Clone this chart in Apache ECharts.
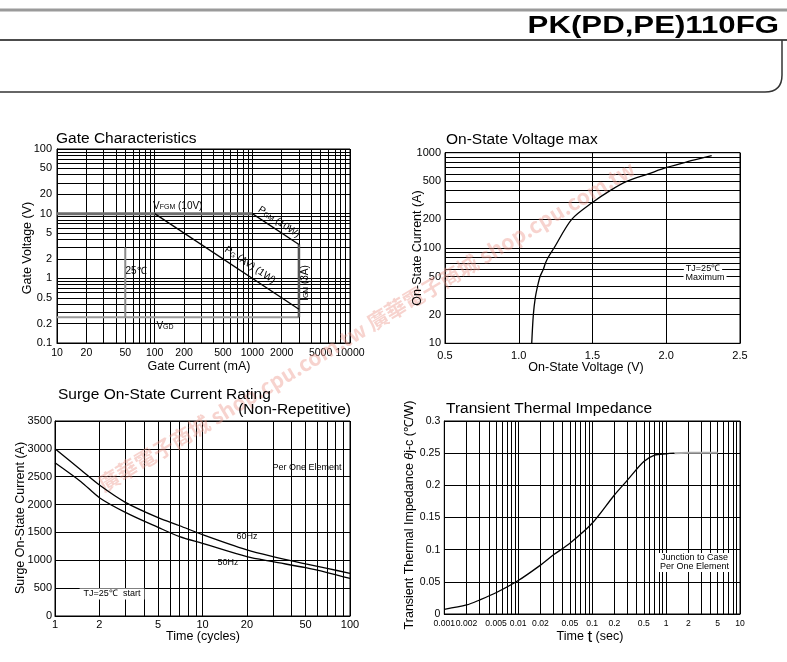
<!DOCTYPE html>
<html><head><meta charset="utf-8">
<script src="https://cdn.jsdelivr.net/npm/echarts@6/dist/echarts.min.js"></script>
<style>html,body{margin:0;padding:0;background:#fff}#c{width:787px;height:662px}</style>
</head><body><div id="c"></div>
<script>
// ---------- Gate Characteristics ----------
const gateXLabels = [10, 20, 50, 100, 200, 500, 1000, 2000, 5000, 10000];
const gateYLabels = [0.1, 0.2, 0.5, 1, 2, 5, 10, 20, 50, 100];
const gateVFGM = [[10, 10], [1000, 10]];
const gatePGAV = [[100, 10], [3000, 0.3333]];
const gatePGM = [[1000, 10], [3000, 3.333]];
const gateIGM = [[3000, 0.25], [3000, 3.333]];
const gateVGD = [[10, 0.25], [3000, 0.25]];
const gateIGT = [[50, 0.25], [50, 3]];
// ---------- On-State Voltage max ----------
const onStateV = [1.088, 1.099, 1.112, 1.128, 1.144, 1.167, 1.182, 1.200, 1.239, 1.359, 1.499, 1.619, 1.732, 1.879, 2.003, 2.139, 2.308];
const onStateI = [10, 20, 30, 40, 50, 60, 70, 80, 100, 200, 300, 400, 500, 600, 700, 800, 930];
const onStateXLabels = [0.5, 1.0, 1.5, 2.0, 2.5];
const onStateYLabels = [10, 20, 50, 100, 200, 500, 1000];
// ---------- Surge On-State Current Rating ----------
const surgeCycles = [1, 1.5, 2, 3, 5, 7, 10, 20, 30, 50, 70, 100];
const surge60Hz = [3000, 2620, 2350, 2040, 1765, 1620, 1460, 1185, 1065, 935, 855, 766];
const surge50Hz = [2752, 2411, 2124, 1861, 1591, 1424, 1304, 1065, 975, 867, 780, 676];
const surgeXLabels = [1, 2, 5, 10, 20, 50, 100];
// ---------- Transient Thermal Impedance ----------
const thermTime = [0.001, 0.002, 0.003, 0.005, 0.01, 0.02, 0.03, 0.05, 0.1, 0.2, 0.3, 0.5, 0.7, 1, 1.3];
const thermZth = [0.0073, 0.014, 0.0218, 0.033, 0.052, 0.076, 0.092, 0.110, 0.141, 0.185, 0.208, 0.237, 0.247, 0.249, 0.25];
const thermTailTime = [1.3, 2, 5];
const thermTailZth = [0.25, 0.2505, 0.2505];
const thermXLabels = [0.001, 0.002, 0.005, 0.01, 0.02, 0.05, 0.1, 0.2, 0.5, 1, 2, 5, 10];

const FONT = '"Liberation Sans", Arial, Helvetica, sans-serif';
const NARROW = '"Liberation Sans Narrow", "Arial Narrow", "Liberation Sans", sans-serif';

function logGrid(min, max) {
  const out = [];
  for (let e = Math.round(Math.log10(min)); Math.pow(10, e) < max * 1.0001; e++) {
    for (let m = 1; m < 10; m++) {
      const v = +(m * Math.pow(10, e)).toPrecision(6);
      if (v >= min * 0.9999 && v <= max * 1.0001) out.push(v);
    }
  }
  return out;
}
// keep end values inside the (floating point) log extent
const inside = (vals, min, max) => vals.map(v => v <= min ? min * 1.000001 : (v >= max ? max * 0.999999 : v));
const fmt = v => String(+(+v).toPrecision(4));
const lineBlack = { color: '#000', width: 1 };

function logAxis(gi, min, max, labels, labelOpt) {
  return {
    type: 'log', logBase: 10, gridIndex: gi, min: min, max: max,
    axisLine: { show: true, onZero: false, lineStyle: lineBlack },
    axisTick: { show: false, customValues: inside(logGrid(min, max), min, max) },
    splitLine: { show: true, lineStyle: lineBlack },
    axisLabel: Object.assign({ customValues: inside(labels, min, max), showMinLabel: true, showMaxLabel: true, hideOverlap: false,
      color: '#000', fontFamily: FONT, fontSize: 11, margin: 5, formatter: fmt }, labelOpt || {})
  };
}
function valAxis(gi, min, max, interval, labelOpt) {
  return {
    type: 'value', gridIndex: gi, min: min, max: max, interval: interval,
    axisLine: { show: true, onZero: false, lineStyle: lineBlack },
    axisTick: { show: false },
    splitLine: { show: true, lineStyle: lineBlack },
    axisLabel: Object.assign({ showMinLabel: true, showMaxLabel: true, color: '#000', fontFamily: FONT, fontSize: 11, margin: 5, formatter: v => String(v) }, labelOpt || {})
  };
}
function zip(a, b) { return a.map((v, i) => [v, b[i]]); }
function ln(xi, data, color, width, smooth, z) {
  return { type: 'line', xAxisIndex: xi, yAxisIndex: xi, data: data, showSymbol: false, symbol: 'none',
    smooth: smooth || false, lineStyle: { color: color, width: width }, z: z || 3, silent: true, animation: false };
}
function T(x, y, text, o) {
  o = o || {};
  return { type: 'text', x: x, y: y, rotation: o.rot || 0, z: o.z || 100, scaleX: o.sx || 1,
    style: Object.assign({ text: text, x: 0, y: 0, fill: o.fill || '#000',
      font: o.font || ('12px ' + FONT), align: o.align || 'center', verticalAlign: 'middle' },
      o.style || {}) };
}

const sub = { s: { fontSize: 7, fontFamily: FONT, verticalAlign: 'bottom', padding: [3, 0, 0, 0] } };
const labF = '10px ' + FONT;
const smallF = '9px ' + NARROW;

const option = {
  animation: false,
  backgroundColor: '#fff',
  grid: [
    { left: 57, top: 149, width: 293, height: 194, show: true, borderColor: '#000', borderWidth: 1 },
    { left: 445, top: 152.7, width: 295, height: 190.6, show: true, borderColor: '#000', borderWidth: 1 },
    { left: 55, top: 421, width: 295, height: 195, show: true, borderColor: '#000', borderWidth: 1 },
    { left: 444.3, top: 421, width: 295.7, height: 193, show: true, borderColor: '#000', borderWidth: 1 }
  ],
  xAxis: [
    logAxis(0, 10, 10000, gateXLabels, { margin: 5, fontSize: 10.5 }),
    valAxis(1, 0.5, 2.5, 0.5, { margin: 7, formatter: v => (+v).toFixed(1) }),
    logAxis(2, 1, 100, surgeXLabels, { margin: 3 }),
    logAxis(3, 0.001, 10, thermXLabels, { margin: 5, fontFamily: NARROW, fontSize: 8.6 })
  ],
  yAxis: [
    logAxis(0, 0.1, 100, gateYLabels, { margin: 5 }),
    logAxis(1, 10, 1000, onStateYLabels, { margin: 4 }),
    valAxis(2, 0, 3500, 500, { margin: 3 }),
    valAxis(3, 0, 0.3, 0.05, { margin: 4, fontFamily: NARROW, fontSize: 10.5, formatter: v => String(+(+v).toFixed(2)) })
  ],
  series: [
    ln(0, gateVFGM, '#6e6e6e', 3),
    ln(0, gateVGD, '#9a9a9a', 2),
    ln(0, gateIGT, '#8a8a8a', 2),
    ln(0, gateIGM, '#555', 2.5),
    ln(0, gatePGAV, '#000', 1.3),
    ln(0, gatePGM, '#000', 1.3),
    ln(1, zip(onStateV, onStateI), '#000', 1.3, 0.3),
    ln(2, zip(surgeCycles, surge60Hz), '#000', 1.3, 0.3),
    ln(2, zip(surgeCycles, surge50Hz), '#000', 1.3, 0.3),
    ln(3, zip(thermTime, thermZth), '#000', 1.3, 0.3),
    ln(3, zip(thermTailTime, thermTailZth), '#aaa', 2)
  ],
  graphic: [
    T(100, 486, '廣華電子商城 shop.cpu.com.tw 廣華電子商城 shop.cpu.com.tw',
      { rot: 0.54, align: 'left', z: 1, fill: 'rgba(235,150,138,0.42)',
        font: 'bold 21px "Noto Sans CJK TC", "Liberation Sans", sans-serif' }),
    { type: 'line', z: 100, shape: { x1: 0, y1: 10, x2: 787, y2: 10 }, style: { stroke: '#9a9a9a', lineWidth: 3 } },
    { type: 'line', z: 100, shape: { x1: 0, y1: 40, x2: 787, y2: 40 }, style: { stroke: '#111', lineWidth: 1.5 } },
    { type: 'line', z: 100, shape: { x1: 0, y1: 92, x2: 765, y2: 92 }, style: { stroke: '#333', lineWidth: 1.5 } },
    { type: 'bezierCurve', z: 100, shape: { x1: 765, y1: 92, x2: 782, y2: 75, cpx1: 782, cpy1: 92 }, style: { stroke: '#333', lineWidth: 1.5, fill: null } },
    { type: 'line', z: 100, shape: { x1: 782, y1: 75, x2: 782, y2: 40 }, style: { stroke: '#333', lineWidth: 1.5 } },
    T(779, 26, 'PK(PD,PE)110FG', { align: 'right', sx: 1.3, font: 'bold 24px ' + FONT }),
    T(56, 139, 'Gate Characteristics', { align: 'left', font: '15.5px ' + FONT }),
    T(446, 140, 'On-State Voltage max', { align: 'left', font: '15.5px ' + FONT }),
    T(58, 395, 'Surge On-State Current Rating', { align: 'left', font: '15.5px ' + FONT }),
    T(351, 410, '(Non-Repetitive)', { align: 'right', font: '15.5px ' + FONT }),
    T(446, 409, 'Transient Thermal Impedance', { align: 'left', font: '15.5px ' + FONT }),
    T(28, 248, 'Gate Voltage (V)', { rot: Math.PI / 2, font: '12.5px ' + FONT }),
    T(199, 367, 'Gate Current (mA)', { font: '12.5px ' + FONT }),
    T(418, 248, 'On-State Current (A)', { rot: Math.PI / 2, font: '12.5px ' + FONT }),
    T(586, 368, 'On-State Voltage (V)', { font: '12.5px ' + FONT }),
    T(21, 518, 'Surge On-State Current (A)', { rot: Math.PI / 2, font: '12.5px ' + FONT }),
    T(203, 637, 'Time (cycles)', { font: '12.5px ' + FONT }),
    T(410, 515, 'Transient Thermal Impedance {it|θ}j-c (℃/W)', { rot: Math.PI / 2, font: '12.5px ' + FONT,
      style: { rich: { it: { fontStyle: 'italic', fontSize: 12.5, fontFamily: FONT } } } }),
    T(590, 637, 'Time {b|t} (sec)', { font: '12.5px ' + FONT, style: { rich: { b: { fontSize: 17, fontFamily: FONT } } } }),
    T(153, 206, 'V{s|FGM} (10V)', { align: 'left', font: labF, style: { rich: sub } }),
    T(279, 222, 'P{s|GM} (10W)', { rot: -0.585, font: labF, style: { rich: sub } }),
    T(250, 265, 'P{s|G} (AV) (1W)', { rot: -0.585, font: labF, style: { rich: sub } }),
    T(305, 283, 'I{s|GM} (3A)', { rot: Math.PI / 2, font: labF, style: { rich: sub } }),
    T(136, 271, '25℃', { font: labF }),
    T(165, 326, 'V{s|GD}', { font: labF, style: { rich: sub } }),
    T(703, 269, 'TJ=25℃', { font: smallF, style: { backgroundColor: '#fff', padding: [0, 2] } }),
    T(705, 278, 'Maximum', { font: smallF, style: { backgroundColor: '#fff', padding: [0, 2] } }),
    T(307, 468, 'Per One Element', { font: smallF }),
    T(247, 537, '60Hz', { font: smallF }),
    T(228, 563, '50Hz', { font: smallF }),
    T(112, 594, 'TJ=25℃  start', { font: smallF, style: { backgroundColor: '#fff', padding: [1, 4] } }),
    { type: 'rect', z: 99, shape: { x: 657, y: 553, width: 75, height: 19 }, style: { fill: '#fff' } },
    T(661, 558, 'Junction to Case', { align: 'left', font: smallF }),
    T(660, 567, 'Per One Element', { align: 'left', font: smallF })
  ]
};
const chart = echarts.init(document.getElementById('c'), null, { renderer: 'canvas' });
chart.setOption(option);
</script></body></html>
